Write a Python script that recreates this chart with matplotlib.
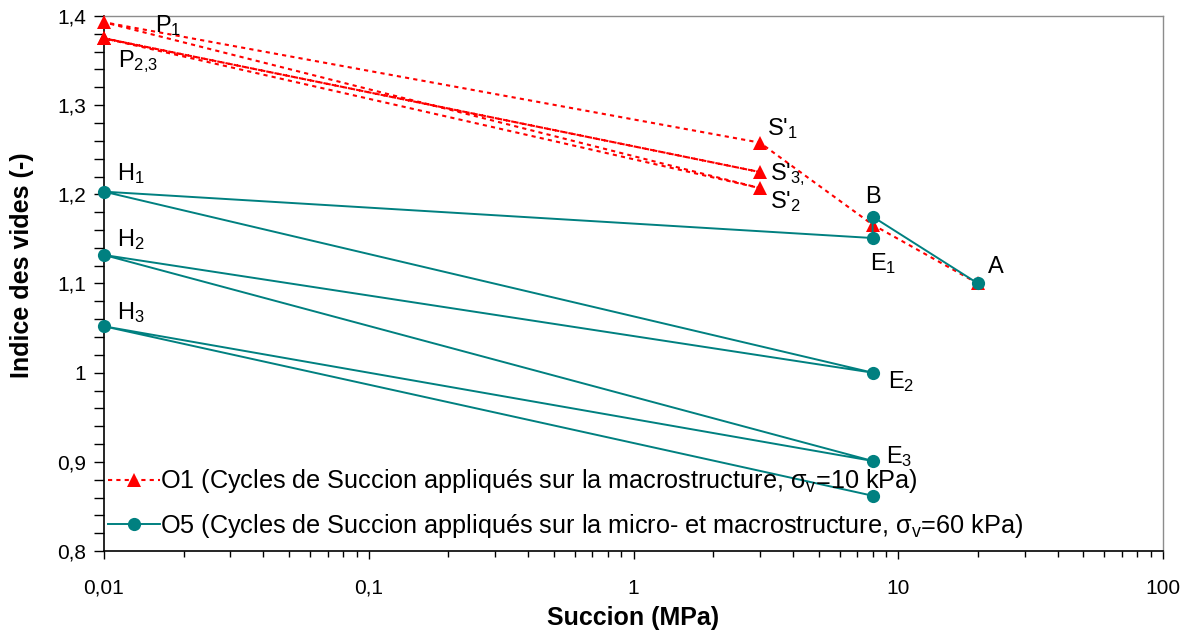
import matplotlib
matplotlib.use("Agg")
import matplotlib.pyplot as plt
from matplotlib.ticker import FixedLocator, FixedFormatter, LogLocator, NullFormatter, MultipleLocator

plt.rcParams['font.family'] = ['Liberation Sans', 'DejaVu Sans']
plt.rcParams['mathtext.fontset'] = 'custom'
plt.rcParams['mathtext.rm'] = 'Liberation Sans'
plt.rcParams['mathtext.it'] = 'Liberation Sans:italic'
plt.rcParams['mathtext.bf'] = 'Liberation Sans:bold'

# O1 path: A -> B -> S'1 -> P1 -> S'2 -> P2 -> S'3 -> P3
o1_suction = [20, 8, 3, 0.01, 3, 0.01, 3, 0.01]
o1_void = [1.100, 1.166, 1.258, 1.393, 1.207, 1.375, 1.225, 1.375]
o1_label = "O1 (Cycles de Succion appliqués sur la macrostructure, σ$_{\\mathrm{v}}$=10 kPa)"

# O5 path: A -> B -> E1 -> H1 -> E2 -> H2 -> E3 -> H3 -> E4
o5_suction = [20, 8, 8, 0.01, 8, 0.01, 8, 0.01, 8]
o5_void = [1.100, 1.175, 1.151, 1.203, 1.000, 1.132, 0.901, 1.052, 0.862]
o5_label = "O5 (Cycles de Succion appliqués sur la micro- et macrostructure, σ$_{\\mathrm{v}}$=60 kPa)"

# point annotations (baseline positions)
ann_text = ["P$_{\\mathrm{1}}$", "P$_{\\mathrm{2{,}3}}$", "S'$_{\\mathrm{1}}$", "S'$_{\\mathrm{3{,}}}$", "S'$_{\\mathrm{2}}$",
            "B", "E$_{\\mathrm{1}}$", "A", "E$_{\\mathrm{2}}$", "E$_{\\mathrm{3}}$",
            "H$_{\\mathrm{1}}$", "H$_{\\mathrm{2}}$", "H$_{\\mathrm{3}}$"]
ann_x = [0.01558, 0.01129, 3.19, 3.28, 3.28, 7.49, 7.82, 21.8, 9.15, 9.0, 0.0112, 0.0112, 0.0112]
ann_y = [1.382, 1.343, 1.2665, 1.216, 1.1847, 1.190, 1.115, 1.112, 0.983, 0.899, 1.216, 1.142, 1.060]

xticks = [0.01, 0.1, 1, 10, 100]
xticklabels = ["0,01", "0,1", "1", "10", "100"]
yticks = [0.8, 0.9, 1.0, 1.1, 1.2, 1.3, 1.4]
yticklabels = ["0,8", "0,9", "1", "1,1", "1,2", "1,3", "1,4"]

fig = plt.figure(figsize=(11.92, 6.37), dpi=100)
ax = fig.add_axes([104/1192, 1-551/637, (1163-104)/1192, (551-16)/637])

ax.plot(o1_suction, o1_void, color='#FF0000', linestyle=(0, (2, 2)), linewidth=1.5,
        marker='^', markersize=10, markeredgewidth=0, clip_on=False, label=o1_label, zorder=3)
ax.plot(o5_suction, o5_void, color='#008080', linestyle='-', linewidth=1.4,
        marker='o', markersize=9.5, markeredgewidth=0, clip_on=False, label=o5_label, zorder=4)

for t, x, y in zip(ann_text, ann_x, ann_y):
    ax.text(x, y, t, fontsize=17, ha='left', va='baseline')

ax.set_xscale('log')
ax.set_xlim(0.01, 100)
ax.set_ylim(0.8, 1.4)
ax.xaxis.set_major_locator(FixedLocator(xticks))
ax.xaxis.set_major_formatter(FixedFormatter(xticklabels))
ax.xaxis.set_minor_locator(LogLocator(base=10, subs=range(2, 10)))
ax.xaxis.set_minor_formatter(NullFormatter())
ax.yaxis.set_major_locator(FixedLocator(yticks))
ax.yaxis.set_major_formatter(FixedFormatter(yticklabels))
ax.yaxis.set_minor_locator(MultipleLocator(0.02))

ax.tick_params(axis='both', which='major', direction='out', width=1, labelsize=15, colors='black')
ax.tick_params(axis='x', which='major', length=6, pad=14)
ax.tick_params(axis='x', which='minor', direction='out', length=4, width=1)
ax.tick_params(axis='y', which='major', length=7, pad=6)
ax.tick_params(axis='y', which='minor', direction='out', length=7, width=1)

for s in ['left', 'bottom']:
    ax.spines[s].set_color('black')
    ax.spines[s].set_linewidth(1.2)
for s in ['top', 'right']:
    ax.spines[s].set_color('#8c8c8c')
    ax.spines[s].set_linewidth(1.0)

ax.set_xlabel("Succion (MPa)", fontsize=18, fontweight='bold', labelpad=6)
ylab = ax.set_ylabel("Indice des vides (-)", fontsize=18, fontweight='bold')
ylab.set_verticalalignment('center')
ax.yaxis.set_label_coords(-0.0774, 0.5346)

leg = ax.legend(loc='lower left', bbox_to_anchor=(-0.006, 0.002), frameon=False, fontsize=18.2,
                handlelength=2.05, handletextpad=0.0, labelspacing=0.65, borderaxespad=0.0)

fig.savefig("out.png", dpi=100)
